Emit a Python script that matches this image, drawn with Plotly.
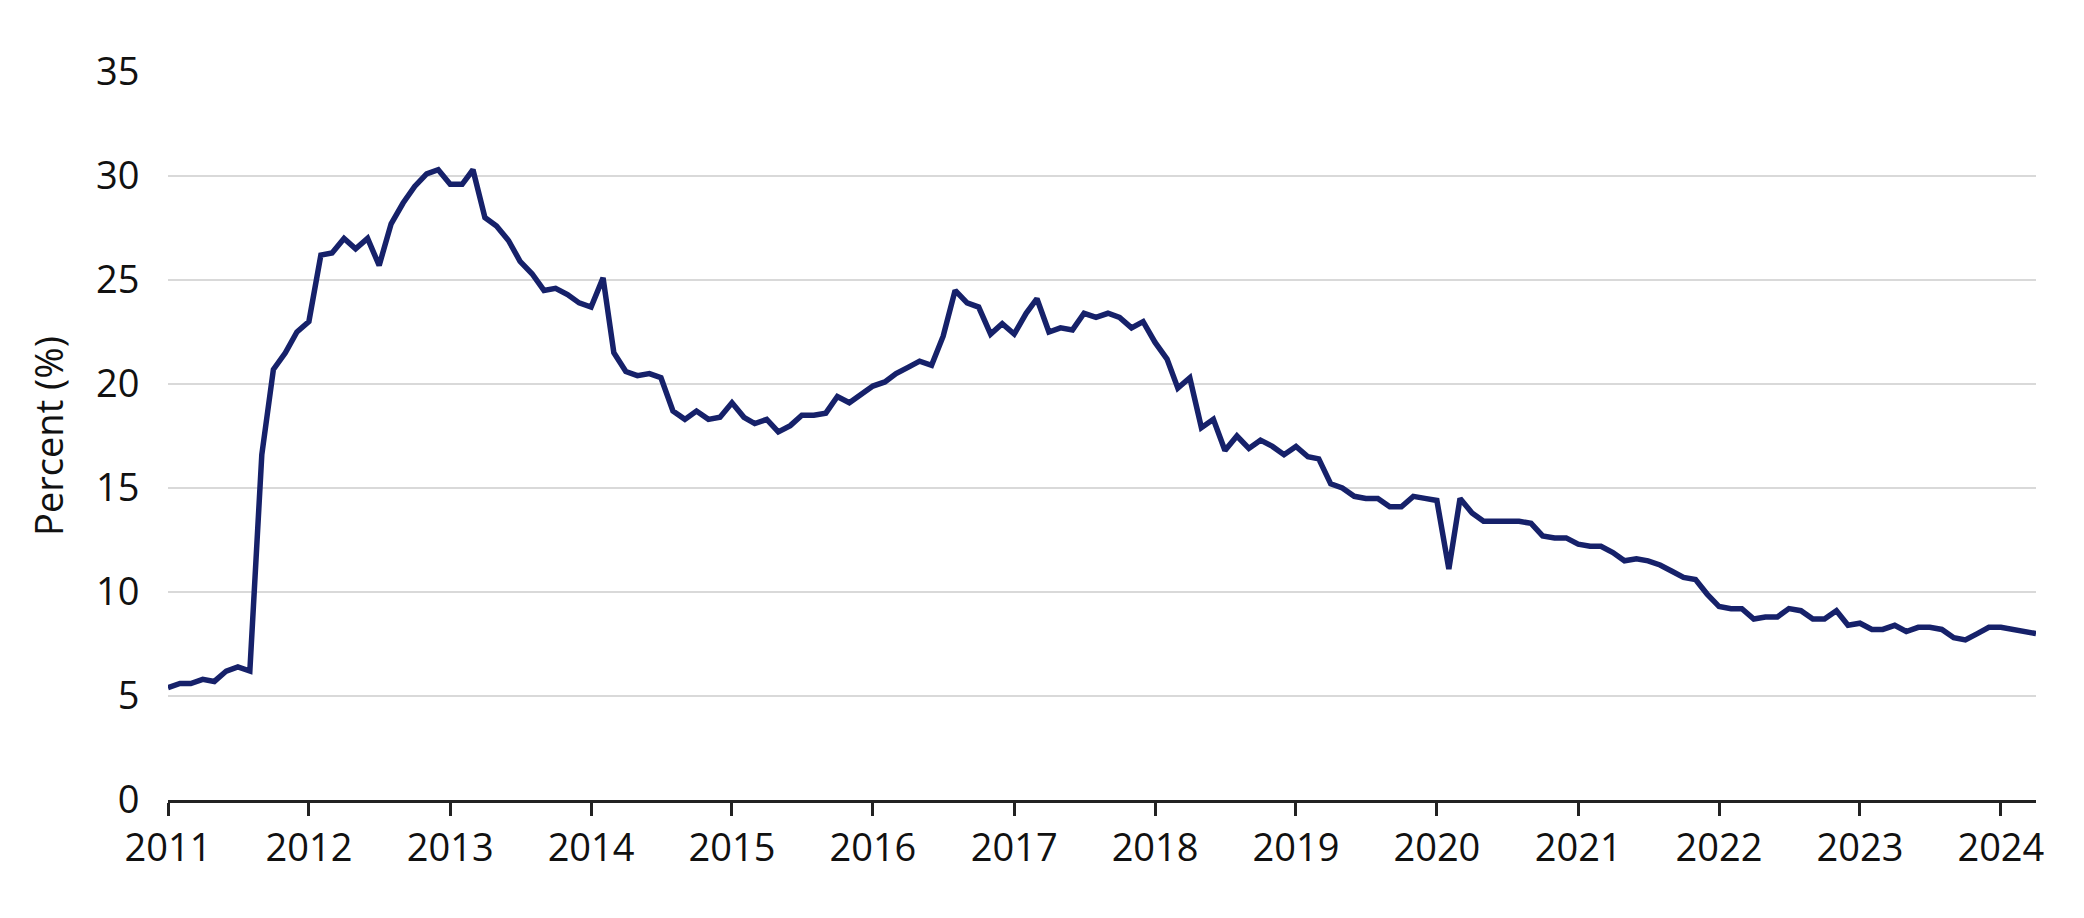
import pandas as pd
import plotly.graph_objects as go

# monthly values, Jan 2011 .. Apr 2024
v2011 = [5.4, 5.6, 5.6, 5.8, 5.7, 6.2, 6.4, 6.2, 16.6, 20.7, 21.5, 22.5]
v2012 = [23.0, 26.2, 26.3, 27.0, 26.5, 27.0, 25.7, 27.7, 28.7, 29.5, 30.1, 30.3]
v2013 = [29.6, 29.6, 30.3, 28.0, 27.6, 26.9, 25.9, 25.3, 24.5, 24.6, 24.3, 23.9]
v2014 = [23.7, 25.1, 21.5, 20.6, 20.4, 20.5, 20.3, 18.7, 18.3, 18.7, 18.3, 18.4]
v2015 = [19.1, 18.4, 18.1, 18.3, 17.7, 18.0, 18.5, 18.5, 18.6, 19.4, 19.1, 19.5]
v2016 = [19.9, 20.1, 20.5, 20.8, 21.1, 20.9, 22.3, 24.5, 23.9, 23.7, 22.4, 22.9]
v2017 = [22.4, 23.4, 24.1, 22.5, 22.7, 22.6, 23.4, 23.2, 23.4, 23.2, 22.7, 23.0]
v2018 = [22.0, 21.2, 19.8, 20.3, 17.9, 18.3, 16.8, 17.5, 16.9, 17.3, 17.0, 16.6]
v2019 = [17.0, 16.5, 16.4, 15.2, 15.0, 14.6, 14.5, 14.5, 14.1, 14.1, 14.6, 14.5]
v2020 = [14.4, 11.1, 14.5, 13.8, 13.4, 13.4, 13.4, 13.4, 13.3, 12.7, 12.6, 12.6]
v2021 = [12.3, 12.2, 12.2, 11.9, 11.5, 11.6, 11.5, 11.3, 11.0, 10.7, 10.6, 9.9]
v2022 = [9.3, 9.2, 9.2, 8.7, 8.8, 8.8, 9.2, 9.1, 8.7, 8.7, 9.1, 8.4]
v2023 = [8.5, 8.2, 8.2, 8.4, 8.1, 8.3, 8.3, 8.2, 7.8, 7.7, 8.0, 8.3]
v2024 = [8.3, 8.2, 8.1, 8.0]

values = (v2011 + v2012 + v2013 + v2014 + v2015 + v2016 + v2017 + v2018
          + v2019 + v2020 + v2021 + v2022 + v2023 + v2024)
dates = pd.date_range("2011-01-01", periods=len(values), freq="MS")

tick_years = [str(y) for y in range(2011, 2025)]
y_ticks = [0, 5, 10, 15, 20, 25, 30, 35]

fig = go.Figure()
fig.add_trace(go.Scatter(
    x=dates, y=values, mode="lines",
    line=dict(color="#16216a", width=5.5),
    showlegend=False,
))

font = dict(family="Liberation Sans Narrow, Open Sans, sans-serif", size=38, color="#111111")
fig.update_layout(
    width=2084, height=918,
    margin=dict(l=160, r=56, t=64, b=126),
    plot_bgcolor="white", paper_bgcolor="white",
    font=font,
)
fig.update_xaxes(
    range=["2011-01-01", "2024-04-01"],
    tickvals=[f"{y}-01-01" for y in tick_years], ticktext=tick_years,
    showgrid=False, showline=True, linecolor="#222222", linewidth=2.5,
    ticks="outside", ticklen=13, tickwidth=2.5, tickcolor="#222222",
    tickfont=font,
)
fig.update_yaxes(
    range=[0, 35], tickvals=y_ticks,
    showgrid=True, gridcolor="#d9d9d9", gridwidth=2,
    zeroline=False, ticks="outside", ticklen=20, tickcolor="rgba(0,0,0,0)",
    tickfont=font,
    title=dict(text="Percent (%)", font=font, standoff=20),
)

fig.write_html("out.html")
